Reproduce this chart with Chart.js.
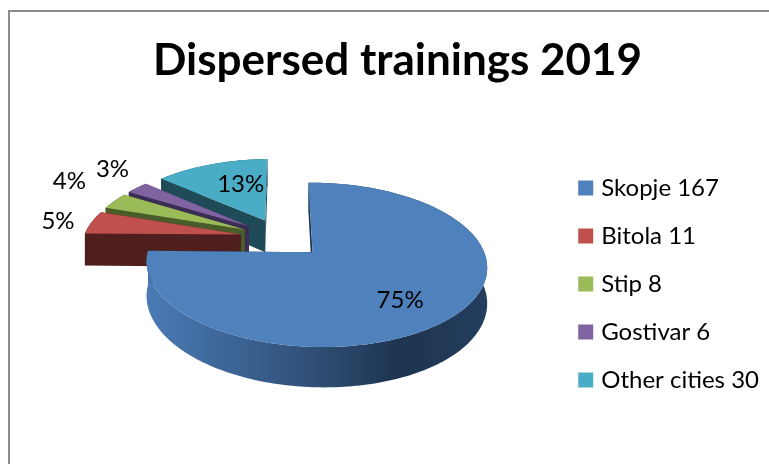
<!DOCTYPE html>
<html>
<head>
<meta charset="utf-8">
<title>Dispersed trainings 2019</title>
<script src="https://cdn.jsdelivr.net/npm/chart.js@4"></script>
<style>
    html, body { margin: 0; padding: 0; background: #fff; overflow: hidden; }
    #wrap { position: relative; width: 769px; height: 464px; }
    #frame { position: absolute; left: 8px; top: 10px; right: 0; bottom: 0; border-left: 2px solid #8c8c8c; border-top: 2px solid #8c8c8c; }
    canvas { position: absolute; left: 0; top: 0; }
</style>
</head>
<body>
<div id="wrap">
    <div id="frame"></div>
    <canvas id="pieChart" width="769" height="464"></canvas>
</div>
<script>
// Data
const categories = ['Skopje 167', 'Bitola 11', 'Stip 8', 'Gostivar 6', 'Other cities 30'];
const trainings = [167, 11, 8, 6, 30];
const percentLabels = ['75%', '5%', '4%', '3%', '13%'];

// Office colours: top face and the dark cut face of each slice
const topColors = ['#4f81bd', '#c0504d', '#9bbb59', '#8064a2', '#4bacc6'];
const sideColors = ['#1f3450', '#4f1f1d', '#4a5c27', '#3c2d55', '#1f4a58'];

// Perspective view of the pie plane
const view = { cx: 282, cy: 237.7, rx: 162.2, ry: 75.5, k: 0.15, m: 0.02, depth: 33, explode: 0.26 };

// where each percent label sits: radius along the slice middle plus a small nudge
const labelPlaces = [
    { r: 0.62, dx: 6, dy: 10 },
    { r: 1.25, dx: 2, dy: 2 },
    { r: 1.4, dx: 2, dy: -10 },
    { r: 1.35, dx: 10, dy: -7 },
    { r: 0.7, dx: 15, dy: 5 }
];

function project(u, v, z) {
    const w = 1 - view.k * v - view.m * u;
    return {
        x: view.cx + view.rx * u / w,
        y: view.cy + view.ry * v / w + view.depth * z / w
    };
}

function tracePath(ctx, points) {
    ctx.beginPath();
    points.forEach((p, i) => {
        if (i === 0) ctx.moveTo(p.x, p.y);
        else ctx.lineTo(p.x, p.y);
    });
    ctx.closePath();
}

// Chart.js works out the slice angles, this plugin paints them in 3D
const pie3d = {
    id: 'pie3d',
    beforeDatasetsDraw(chart) {
        const ctx = chart.ctx;
        const arcs = chart.getDatasetMeta(0).data;

        // back to front: last slice first, the big one on top
        for (let i = arcs.length - 1; i >= 0; i--) {
            const arc = arcs[i];
            const mid = (arc.startAngle + arc.endAngle) / 2;
            const ax = view.explode * Math.cos(mid);
            const ay = view.explode * Math.sin(mid);

            const steps = Math.ceil((arc.endAngle - arc.startAngle) / 0.02);
            const rim = [];
            for (let s = 0; s <= steps; s++) {
                const a = arc.startAngle + (arc.endAngle - arc.startAngle) * s / steps;
                rim.push([ax + Math.cos(a), ay + Math.sin(a)]);
            }
            const first = rim[0];
            const last = rim[rim.length - 1];

            // cut faces
            ctx.fillStyle = sideColors[i];
            [first, last].forEach(p => {
                tracePath(ctx, [project(ax, ay, 0), project(p[0], p[1], 0), project(p[0], p[1], 1), project(ax, ay, 1)]);
                ctx.fill();
            });

            // outer wall
            const wall = rim.map(p => project(p[0], p[1], 0)).concat(rim.slice().reverse().map(p => project(p[0], p[1], 1)));
            tracePath(ctx, wall);
            if (i === 0) {
                const grad = ctx.createLinearGradient(146, 0, 486, 0);
                grad.addColorStop(0, '#4a7bb5');
                grad.addColorStop(0.5, '#2f4e76');
                grad.addColorStop(0.74, '#1e3450');
                grad.addColorStop(1, '#243d5d');
                ctx.fillStyle = grad;
            }
            ctx.fill();

            // top face
            tracePath(ctx, [project(ax, ay, 0)].concat(rim.map(p => project(p[0], p[1], 0))));
            ctx.fillStyle = topColors[i];
            ctx.fill();
        }

        // percent labels
        ctx.fillStyle = '#000';
        ctx.font = '24px Lato';
        ctx.textAlign = 'center';
        ctx.textBaseline = 'middle';
        arcs.forEach((arc, i) => {
            const mid = (arc.startAngle + arc.endAngle) / 2;
            const place = labelPlaces[i];
            const r = view.explode + place.r;
            const p = project(r * Math.cos(mid), r * Math.sin(mid), 0);
            ctx.fillText(percentLabels[i], p.x + place.dx, p.y + place.dy);
        });

        return false;
    }
};

const ctx = document.getElementById('pieChart').getContext('2d');

const myChart = new Chart(ctx, {
    type: 'pie',
    data: {
        labels: categories,
        datasets: [{
            data: trainings,
            backgroundColor: topColors,
            borderWidth: 0
        }]
    },
    options: {
        responsive: false,
        animation: false,
        layout: {
            padding: { left: 26, right: 0, top: 0, bottom: 0 }
        },
        plugins: {
            tooltip: { enabled: false },
            title: {
                display: true,
                text: 'Dispersed trainings 2019',
                color: '#000',
                font: { family: 'Lato', size: 44, weight: 'bold' },
                padding: { top: 34, bottom: 17 }
            },
            legend: {
                position: 'right',
                fullSize: false,
                labels: {
                    color: '#000',
                    font: { family: 'Lato', size: 24 },
                    // small box with a thick same-colour border, keeps the text close to the swatch
                    boxWidth: 7,
                    boxHeight: 7,
                    padding: 24,
                    generateLabels(chart) {
                        return Chart.overrides.pie.plugins.legend.labels.generateLabels(chart).map(item => ({
                            ...item,
                            strokeStyle: item.fillStyle,
                            lineWidth: 8
                        }));
                    }
                }
            }
        }
    },
    plugins: [pie3d]
});
</script>
</body>
</html>
